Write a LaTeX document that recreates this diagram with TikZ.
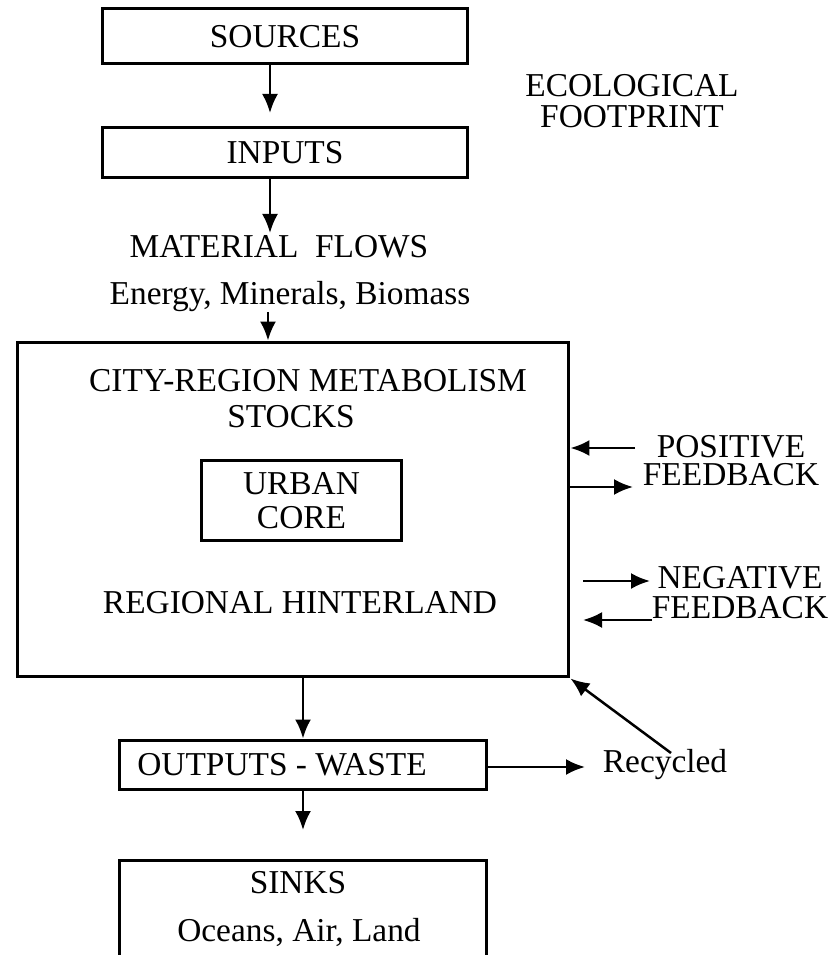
\documentclass[tikz,border=0pt]{standalone}
\usepackage{fontspec}
\setmainfont{Liberation Serif}
\usetikzlibrary{arrows.meta}
\tikzset{
  box/.style={draw, line width=0.6mm, inner sep=0pt},
  flow/.style={line width=0.5mm, -{Latex[length=3.8mm,width=3.2mm]}},
  lbl/.style={font=\fontsize{19}{19}\selectfont, align=center, inner sep=2pt},
}
\begin{document}
\begin{tikzpicture}[x=0.02cm, y=-0.02cm]
    \clip (0,0) rectangle (833,955);
    \fill[white] (0,0) rectangle (833,955);
    % main chain
    \node[box, lbl, minimum width=7.32cm, minimum height=1.1cm] (sources) at (285,36.5) {SOURCES};
    \node[box, lbl, minimum width=7.32cm, minimum height=1.0cm] (inputs) at (285,153) {INPUTS};
    \node[lbl] (material) at (279,247) {MATERIAL\ \ FLOWS};
    \node[lbl] (energy) at (290,297) {Energy, Minerals, Biomass};
    \node[box, minimum width=11.04cm, minimum height=6.7cm] (city) at (293,509.5) {};
    \node[lbl] (metab) at (308,381) {CITY-REGION METABOLISM};
    \node[lbl] (stocks) at (291,417) {STOCKS};
    \node[box, lbl, font=\fontsize{19}{19.5}\selectfont, minimum width=4.02cm, minimum height=1.62cm] (core) at (301.5,500.5) {URBAN\\CORE};
    \node[lbl] (hinter) at (300,603) {REGIONAL HINTERLAND};
    \node[box, minimum width=7.36cm, minimum height=0.98cm] (outputs) at (303,764.5) {};
    \node[lbl] (waste) at (282,765) {OUTPUTS - WASTE};
    \node[box, minimum width=7.36cm, minimum height=2.4cm] (sinks) at (303,920) {};
    \node[lbl] (sinkname) at (298,883) {SINKS};
    \node[lbl] (sinklist) at (299,932) {Oceans, Air, Land};
    % side labels
    \node[lbl, font=\fontsize{19}{18}\selectfont] (eco) at (632,101) {ECOLOGICAL\\FOOTPRINT};
    \node[lbl, font=\fontsize{19}{16}\selectfont] (pos) at (731,461) {POSITIVE\\FEEDBACK};
    \node[lbl, font=\fontsize{19}{17}\selectfont] (neg) at (740,593) {NEGATIVE\\FEEDBACK};
    \node[lbl] (recycled) at (665,765) {Recycled};
    % arrows
    \coordinate (t1) at (270,113);
    \coordinate (t2) at (270,233);
    \coordinate (t3) at (268,312);
    \coordinate (t5) at (303,830);
    \coordinate (t6) at (585,767);
    \coordinate (r0) at (671,753);
    \draw[flow] (sources.south -| t1) -- (t1);
    \draw[flow] (inputs.south -| t2) -- (t2);
    \draw[flow] (t3) -- (t3 |- city.north);
    \draw[flow] (city.south -| outputs.north) -- (outputs.north);
    \draw[flow] (outputs.south) -- (t5);
    \draw[flow] (outputs.east |- t6) -- (t6);
    \draw[flow] (r0) -- (city.south east);
    % feedback
    \coordinate (p1) at (635,448);
    \coordinate (p2) at (633,487);
    \coordinate (n1) at (583,581);
    \coordinate (n2) at (650,581);
    \coordinate (n3) at (652,620);
    \coordinate (n4) at (583,620);
    \draw[flow] (p1) -- (p1 -| city.east);
    \draw[flow] (p2 -| city.east) -- (p2);
    \draw[flow] (n1) -- (n2);
    \draw[flow] (n3) -- (n4);
\end{tikzpicture}
\end{document}
